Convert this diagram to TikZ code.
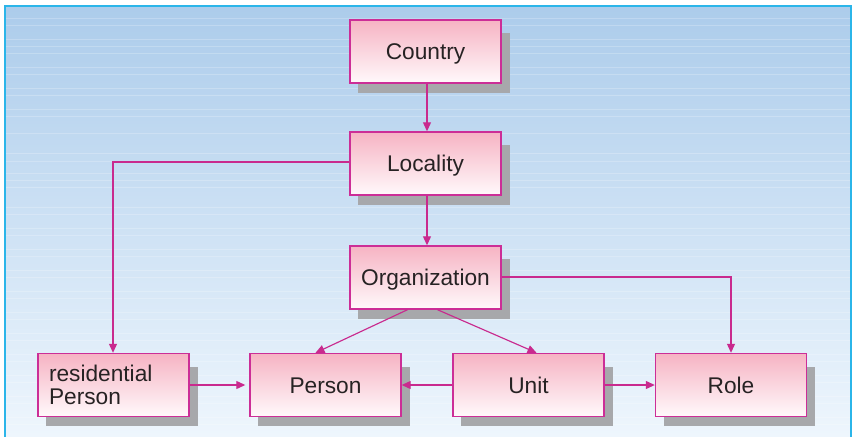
\documentclass[tikz,border=0pt]{standalone}
\usepackage{fontspec}
\setmainfont{Liberation Sans}
\usetikzlibrary{arrows.meta}
\definecolor{framecyan}{HTML}{2BB5E9}
\definecolor{skytop}{HTML}{ACCCEB}
\definecolor{skybot}{HTML}{EEF6FD}
\definecolor{boxtop}{HTML}{F6B3C3}
\definecolor{boxbot}{HTML}{FFF9FB}
\definecolor{boxline}{HTML}{CC2E97}
\definecolor{linkc}{HTML}{C92A8E}
\definecolor{shadowc}{HTML}{A7A8AB}
\definecolor{textc}{HTML}{262223}
\pgfdeclarelayer{bg}
\pgfdeclarelayer{shade}
\pgfsetlayers{bg,shade,main}
\tikzset{
  entity/.style={draw=boxline, line width=1.4pt, top color=boxtop, bottom color=boxbot,
    minimum width=151pt, minimum height=63pt, inner sep=0pt, text=textc,
    font=\fontsize{22.7}{25.5}\selectfont},
  capcentred/.style={text height=16.2pt, text depth=0pt},
  link/.style={draw=linkc, line width=1.15pt, -{Triangle[length=9pt,width=8pt]}},
}
\newcommand{\dropshadow}[1]{%
  \fill[shadowc] ([xshift=9pt,yshift=-14pt]#1.north west) rectangle ([xshift=8pt,yshift=-9pt]#1.south east);}
\begin{document}
\begin{tikzpicture}[x=1pt,y=-1pt]
\useasboundingbox (0,0) rectangle (853,436);
% backdrop panel with faint horizontal ruling
\begin{pgfonlayer}{bg}
  \shade[top color=skytop, bottom color=skybot] (5,6) rectangle (851,436);
  \foreach \yy in {18,25,39,46,53,67,74,88,95,109,116,133,153,161,173,180,187,207,214,228,235,249,256,270,277,291,298,312,319,333,340,354,361,375,382,396,403,417,424}
    \draw[white, opacity=0.22, line width=0.7pt] (6,\yy) -- (850,\yy);
  \draw[framecyan, line width=2pt] (5,437) -- (5,6) -- (851,6) -- (851,437);
\end{pgfonlayer}
% entities
\node[entity, capcentred] (country) at (425.5,51.5) {Country};
\node[entity, capcentred] (locality) at (425.5,163.5) {Locality};
\node[entity, capcentred] (org) at (425.5,277.5) {Organization};
\node[entity, align=left, text width=129pt] (resp) at (113.5,385) {residential\\[-2pt]Person};
\node[entity, capcentred] (person) at (325.5,385) {Person};
\node[entity, capcentred] (unit) at (528.5,385) {Unit};
\node[entity, capcentred] (role) at (731,385) {Role};
\begin{pgfonlayer}{shade}
  \dropshadow{country}\dropshadow{locality}\dropshadow{org}
  \dropshadow{resp}\dropshadow{person}\dropshadow{unit}\dropshadow{role}
\end{pgfonlayer}
% relationships
\draw[link] ([xshift=1.5pt]country.south) -- ([xshift=1.5pt]locality.north);
\draw[link] ([xshift=1.5pt]locality.south) -- ([xshift=1.5pt]org.north);
\draw[link] ([yshift=1.5pt]locality.west) -| ([xshift=-0.5pt]resp.north);
\draw[link] ([yshift=0.5pt]org.east) -| (role.north);
\draw[link] ([xshift=-18pt]org.south) -- ([xshift=-10pt]person.north);
\draw[link] ([xshift=12pt]org.south) -- ([xshift=8pt]unit.north);
\draw[link, shorten >=4pt] (resp.east) -- (person.west);
\draw[link] (unit.west) -- (person.east);
\draw[link] (unit.east) -- (role.west);
\end{tikzpicture}
\end{document}
